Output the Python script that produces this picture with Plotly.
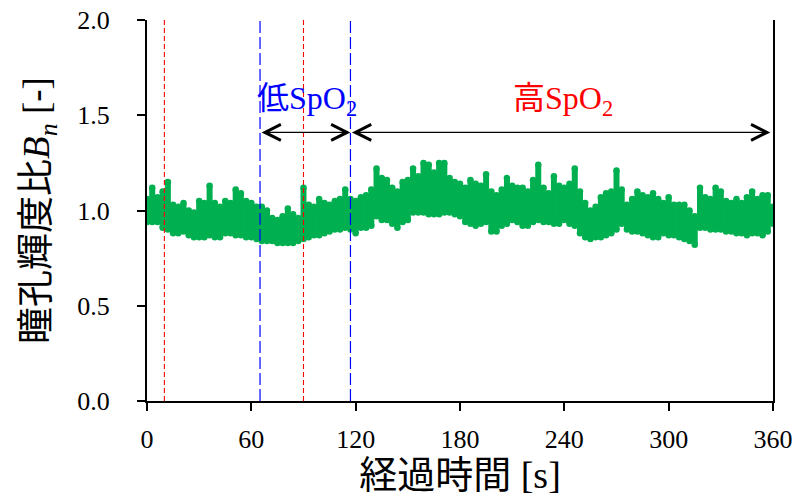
import plotly.graph_objects as go

# ---- data (3 s grid) ----
time_s = list(range(0, 361, 3))

band_hi = [
    1.06, 1.12, 1.07, 1.10, 1.15, 1.03, 1.02, 1.04, 1.00, 0.99,   # 0-27
    1.05, 1.04, 1.13, 1.04, 1.02, 1.05, 1.04, 1.11, 1.09, 1.05,   # 30-57
    1.04, 1.02, 1.02, 1.00, 0.96, 0.95, 0.97, 1.01, 0.98, 0.96,   # 60-87
    1.12, 1.03, 1.02, 1.06, 1.04, 1.03, 1.05, 1.06, 1.11, 1.06,   # 90-117
    1.05, 1.07, 1.08, 1.11, 1.22, 1.17, 1.16, 1.12, 1.10, 1.15,   # 120-147
    1.16, 1.22, 1.18, 1.25, 1.24, 1.20, 1.25, 1.25, 1.17, 1.15,   # 150-177
    1.14, 1.12, 1.16, 1.14, 1.13, 1.19, 1.10, 1.08, 1.11, 1.17,   # 180-207
    1.13, 1.12, 1.12, 1.10, 1.16, 1.24, 1.12, 1.09, 1.18, 1.13,   # 210-237
    1.12, 1.14, 1.22, 1.10, 1.04, 1.00, 1.02, 1.07, 1.09, 1.10,   # 240-267
    1.21, 1.11, 1.03, 1.06, 1.10, 1.08, 1.07, 1.09, 1.06, 1.04,   # 270-297
    1.07, 1.03, 1.03, 1.03, 1.00, 0.97, 1.12, 1.07, 1.06, 1.12,   # 300-327
    1.10, 1.05, 1.04, 1.06, 1.04, 1.07, 1.10, 1.06, 1.08, 1.08,   # 330-357
    1.02,                                                         # 360
]

band_lo = [
    0.94, 0.94, 0.94, 0.91, 0.90, 0.88, 0.88, 0.89, 0.87, 0.86,
    0.86, 0.86, 0.87, 0.86, 0.86, 0.88, 0.88, 0.87, 0.87, 0.86,
    0.86, 0.85, 0.84, 0.84, 0.84, 0.83, 0.83, 0.83, 0.83, 0.84,
    0.85, 0.86, 0.87, 0.87, 0.88, 0.89, 0.90, 0.90, 0.91, 0.90,
    0.88, 0.91, 0.91, 0.92, 0.97, 0.95, 0.95, 0.93, 0.91, 0.94,
    0.95, 0.99, 0.99, 0.99, 0.98, 0.98, 0.98, 0.99, 0.99, 0.98,
    0.97, 0.94, 0.93, 0.92, 0.93, 0.94, 0.89, 0.89, 0.92, 0.93,
    0.95, 0.94, 0.92, 0.92, 0.94, 0.95, 0.94, 0.94, 0.93, 0.93,
    0.95, 0.93, 0.92, 0.88, 0.86, 0.85, 0.86, 0.86, 0.87, 0.88,
    0.90, 0.93, 0.90, 0.89, 0.89, 0.88, 0.87, 0.86, 0.86, 0.88,
    0.87, 0.87, 0.86, 0.85, 0.84, 0.82, 0.91, 0.91, 0.90, 0.90,
    0.90, 0.89, 0.89, 0.88, 0.88, 0.87, 0.88, 0.88, 0.87, 0.89,
    0.93,
]

red_marks = [10, 90]     # red dashed event lines [s]
blue_marks = [65, 117]   # blue dashed boundaries [s]
x_ticks = [0, 60, 120, 180, 240, 300, 360]
y_ticks = [0.0, 0.5, 1.0, 1.5, 2.0]
y_tick_text = ["0.0", "0.5", "1.0", "1.5", "2.0"]

low_label_x, high_label_x = 92, 239
label_y = 1.575
arrow_y = 1.41
arrow_end = 358.5

GREEN = "#00B050"
SERIF = "Liberation Serif, Noto Sans CJK JP, serif"

seg_x, seg_y = [], []
for t, lo, hi in zip(time_s, band_lo, band_hi):
    seg_x += [t, t, None]
    seg_y += [lo, hi, None]

fig = go.Figure()
fig.add_trace(go.Scatter(x=seg_x, y=seg_y, mode="lines",
                         line=dict(color=GREEN, width=6),
                         hoverinfo="skip", showlegend=False))
fig.add_trace(go.Scatter(x=time_s + time_s, y=band_hi + band_lo, mode="markers",
                         marker=dict(color=GREEN, size=6.5),
                         showlegend=False))

for xv in red_marks:
    fig.add_shape(type="line", xref="x", yref="y", x0=xv, x1=xv, y0=0, y1=2,
                  line=dict(color="#FF0000", width=1.1, dash="5px,3px"), layer="above")
for xv in blue_marks:
    fig.add_shape(type="line", xref="x", yref="y", x0=xv, x1=xv, y0=0, y1=2,
                  line=dict(color="#0000FF", width=1.2, dash="12px,4px"), layer="above")

# double-headed arrows
for a, b in [(blue_marks[0], blue_marks[1]), (blue_marks[1], arrow_end)]:
    fig.add_annotation(x=b, y=arrow_y, ax=a, ay=arrow_y, xref="x", yref="y",
                       axref="x", ayref="y", text="", showarrow=True,
                       arrowhead=5, startarrowhead=5, arrowside="end+start",
                       arrowsize=2.6, startarrowsize=2.6, arrowwidth=1.2,
                       arrowcolor="black")

fig.add_annotation(x=low_label_x, y=label_y, xref="x", yref="y", showarrow=False,
                   text='低SpO<sub>2</sub>',
                   font=dict(family=SERIF, size=32, color="#0000FF"))
fig.add_annotation(x=high_label_x, y=label_y, xref="x", yref="y", showarrow=False,
                   text='高SpO<sub>2</sub>',
                   font=dict(family=SERIF, size=32, color="#FF0000"))

fig.update_layout(
    width=803, height=496,
    margin=dict(l=147, r=30, t=20, b=95),
    plot_bgcolor="white", paper_bgcolor="white",
    font=dict(family=SERIF, color="black"),
)
fig.update_xaxes(range=[0, 360], tickvals=x_ticks, ticks="outside", ticklen=8,
                 tickwidth=1.5, tickcolor="black", showline=True, linecolor="black",
                 linewidth=2, showgrid=False, zeroline=False, automargin=False,
                 tickfont=dict(family=SERIF, size=26, color="black"),
                 ticklabelstandoff=6,
                 title=dict(text='経過時間 [s]',
                            font=dict(family=SERIF, size=38, color="black"), standoff=4))
fig.update_yaxes(range=[0, 2], tickvals=y_ticks, ticktext=y_tick_text, ticks="outside",
                 ticklen=8, tickwidth=1.5, tickcolor="black", showline=True,
                 linecolor="black", linewidth=2, mirror=True, showgrid=False,
                 zeroline=False, automargin=False,
                 tickfont=dict(family=SERIF, size=26, color="black"),
                 ticklabelstandoff=22,
                 title=dict(text='瞳孔輝度比<i>B</i><sub><i>n</i></sub> [-]',
                            font=dict(family=SERIF, size=37, color="black"), standoff=16))

# remove the default page margin so the figure sits at the window's top-left corner
fig.write_html("out.html", config={"displayModeBar": False},
               post_script="document.body.style.margin='0';document.body.style.overflow='hidden';")
